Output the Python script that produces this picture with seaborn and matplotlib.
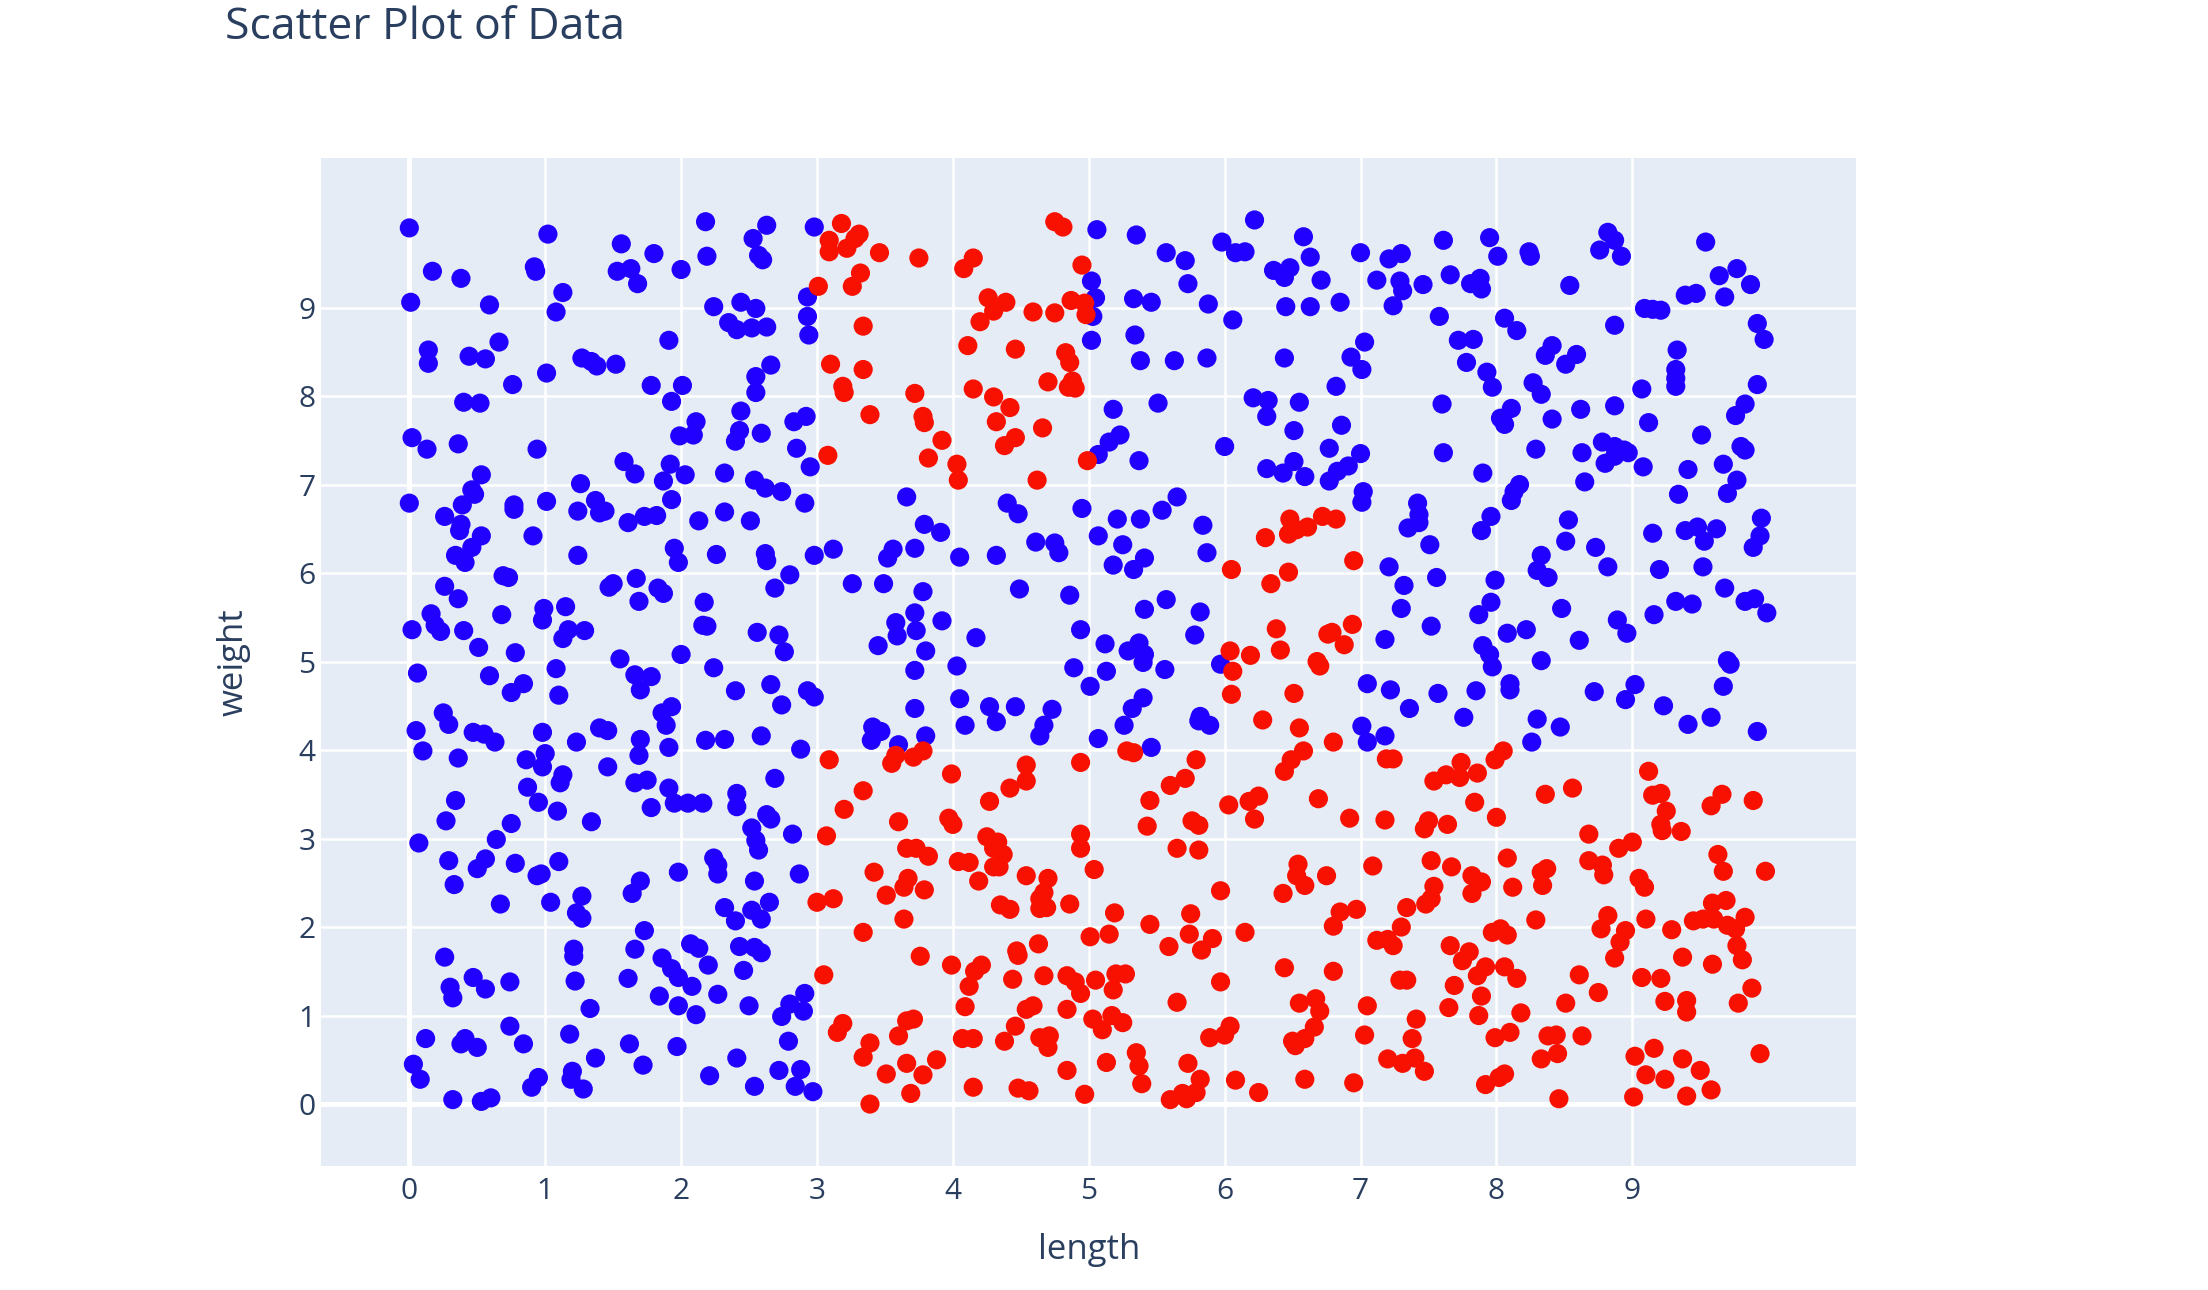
import matplotlib
matplotlib.use("Agg")
import matplotlib.pyplot as plt
import seaborn as sns
import pandas as pd

# ---------------- data ----------------
blue_points = [
    # x 0-2, y 5-10
    (0.00,9.90),(1.02,9.83),(1.56,9.72),(1.80,9.61),(0.17,9.41),(0.38,9.33),(0.92,9.46),(0.93,9.41),
    (1.53,9.41),(1.63,9.44),(1.68,9.27),(2.00,9.43),(1.13,9.17),(0.01,9.06),(0.59,9.03),(1.08,8.95),
    (1.91,8.63),(0.66,8.61),(0.14,8.52),(0.14,8.37),(0.44,8.45),(0.56,8.42),(1.27,8.43),(1.34,8.39),
    (1.38,8.34),(1.52,8.36),(1.01,8.26),(0.76,8.13),(1.78,8.12),(2.01,8.12),(1.93,7.94),(0.40,7.93),
    (0.52,7.92),(1.99,7.55),(0.02,7.53),(0.13,7.40),(0.36,7.46),(0.94,7.40),(1.58,7.26),(1.66,7.12),
    (1.92,7.23),(1.87,7.04),(0.53,7.11),(0.46,6.94),(0.48,6.89),(0.00,6.79),(0.39,6.77),(0.26,6.64),
    (0.38,6.55),(0.37,6.48),(0.53,6.42),(0.46,6.29),(0.34,6.20),(0.41,6.12),(0.77,6.77),(0.77,6.72),
    (1.01,6.81),(0.91,6.42),(1.26,7.01),(1.24,6.70),(1.37,6.82),(1.40,6.68),(1.44,6.70),(1.61,6.57),
    (1.73,6.64),(1.82,6.65),(1.93,6.83),(1.24,6.20),(1.95,6.28),(1.98,6.12),(0.69,5.97),(0.73,5.95),
    (0.26,5.85),(0.36,5.71),(0.16,5.54),(0.19,5.41),(0.23,5.34),(0.02,5.36),(0.40,5.35),(0.68,5.53),
    (0.51,5.16),(0.78,5.10),(0.99,5.60),(0.98,5.47),(1.15,5.62),(1.17,5.36),(1.13,5.26),(1.29,5.35),
    (1.50,5.88),(1.47,5.84),(1.67,5.94),(1.69,5.68),(1.83,5.83),(1.87,5.77),(2.00,5.08),(1.55,5.03),
    # x 0-2, y 0-5
    (0.06,4.87),(0.59,4.84),(1.08,4.92),(1.66,4.85),(1.78,4.83),(1.70,4.68),(0.75,4.65),(0.84,4.75),
    (1.10,4.62),(0.25,4.42),(0.29,4.29),(0.05,4.22),(0.10,3.99),(0.47,4.20),(0.55,4.18),(0.63,4.09),
    (0.36,3.91),(0.98,4.20),(1.23,4.09),(1.40,4.25),(1.46,4.22),(1.86,4.42),(1.93,4.49),(1.89,4.28),
    (1.70,4.12),(1.69,3.94),(1.91,4.03),(0.86,3.89),(1.00,3.96),(0.98,3.81),(1.13,3.72),(1.11,3.63),
    (1.46,3.81),(1.66,3.63),(1.75,3.66),(1.91,3.57),(1.95,3.40),(1.78,3.35),(0.87,3.58),(0.95,3.41),
    (1.09,3.31),(1.34,3.19),(0.34,3.43),(0.27,3.20),(0.75,3.17),(0.64,2.99),(0.07,2.95),(0.29,2.75),
    (0.56,2.77),(0.50,2.66),(0.33,2.48),(0.78,2.72),(0.94,2.58),(0.97,2.60),(1.10,2.74),(0.67,2.26),
    (1.04,2.28),(1.27,2.35),(1.23,2.16),(1.27,2.10),(1.70,2.52),(1.64,2.38),(1.98,2.62),(1.73,1.96),
    (1.66,1.75),(1.21,1.75),(1.21,1.67),(1.22,1.39),(1.33,1.08),(1.61,1.42),(1.86,1.65),(1.93,1.53),
    (1.98,1.43),(1.84,1.22),(1.98,1.11),(0.26,1.66),(0.47,1.43),(0.30,1.32),(0.32,1.20),(0.56,1.30),
    (0.74,1.38),(0.12,0.74),(0.41,0.74),(0.38,0.68),(0.50,0.64),(0.74,0.88),(0.84,0.68),(1.18,0.79),
    (1.37,0.52),(1.62,0.68),(1.72,0.44),(1.97,0.65),(0.03,0.45),(0.08,0.28),(0.95,0.30),(0.90,0.19),
    (1.20,0.37),(1.19,0.28),(1.28,0.17),(0.32,0.05),(0.53,0.03),(0.60,0.07),
    # x 2-4, y 5-10
    (2.18,9.97),(2.63,9.93),(2.53,9.78),(2.19,9.58),(2.57,9.59),(2.60,9.54),(2.98,9.91),(2.24,9.01),
    (2.44,9.06),(2.55,8.99),(2.35,8.83),(2.41,8.75),(2.52,8.77),(2.63,8.78),(2.93,9.12),(2.93,8.90),
    (2.94,8.69),(2.66,8.35),(2.55,8.22),(2.55,8.04),(2.44,7.83),(2.11,7.71),(2.09,7.56),(2.43,7.61),
    (2.40,7.49),(2.59,7.58),(2.83,7.71),(2.92,7.77),(2.85,7.41),(2.95,7.20),(2.03,7.11),(2.32,7.13),
    (2.54,7.05),(2.62,6.96),(2.74,6.92),(2.91,6.79),(2.13,6.59),(2.32,6.69),(2.51,6.59),(2.26,6.21),
    (2.62,6.22),(2.63,6.14),(2.98,6.20),(3.12,6.27),(2.80,5.98),(2.69,5.83),(3.26,5.88),(3.49,5.88),
    (3.66,6.86),(3.79,6.55),(3.91,6.46),(3.56,6.27),(3.52,6.17),(3.72,6.28),(2.17,5.67),(2.16,5.41),
    (2.19,5.40),(2.56,5.33),(2.72,5.30),(2.76,5.11),(2.24,4.93),(3.78,5.79),(3.72,5.55),(3.58,5.44),
    (3.59,5.29),(3.73,5.35),(3.92,5.46),(3.45,5.18),(3.80,5.12),(3.72,4.90),
    # x 2-4, y 0-5
    (2.40,4.67),(2.66,4.74),(2.74,4.51),(2.93,4.67),(2.98,4.60),(2.18,4.11),(2.32,4.12),(2.59,4.16),
    (2.88,4.01),(3.41,4.26),(3.47,4.21),(3.40,4.11),(3.60,4.06),(3.80,4.16),(3.72,4.47),(2.69,3.68),
    (2.05,3.40),(2.16,3.40),(2.41,3.51),(2.41,3.36),(2.63,3.27),(2.66,3.22),(2.52,3.12),(2.55,2.98),
    (2.57,2.87),(2.82,3.05),(2.24,2.78),(2.27,2.70),(2.27,2.60),(2.54,2.52),(2.87,2.60),(2.32,2.22),
    (2.40,2.07),(2.52,2.19),(2.59,2.09),(2.65,2.28),(2.07,1.81),(2.13,1.76),(2.43,1.78),(2.54,1.77),
    (2.59,1.71),(2.20,1.57),(2.46,1.51),(2.08,1.33),(2.27,1.24),(2.11,1.01),(2.50,1.11),(2.74,0.99),
    (2.80,1.13),(2.91,1.25),(2.90,1.05),(2.79,0.71),(2.41,0.52),(2.21,0.32),(2.54,0.20),(2.72,0.38),
    (2.88,0.39),(2.84,0.20),(2.97,0.14),
    # x 4-6, y 5-10
    (5.06,9.88),(5.35,9.82),(5.57,9.62),(5.71,9.53),(5.73,9.27),(5.98,9.74),(5.02,9.30),(5.05,9.11),
    (5.03,8.90),(5.33,9.10),(5.46,9.06),(5.88,9.04),(5.02,8.63),(5.34,8.69),(5.38,8.40),(5.63,8.40),
    (5.87,8.43),(5.18,7.85),(5.51,7.92),(5.23,7.56),(5.15,7.48),(5.07,7.34),(5.37,7.27),(6.00,7.43),
    (4.40,6.79),(4.48,6.67),(4.95,6.73),(4.05,6.18),(4.32,6.20),(4.61,6.35),(4.75,6.34),(4.78,6.23),
    (5.07,6.42),(5.21,6.61),(5.38,6.61),(5.54,6.71),(5.65,6.86),(5.25,6.32),(5.18,6.09),(5.33,6.04),
    (5.41,6.17),(5.84,6.54),(5.87,6.23),(4.49,5.82),(4.86,5.75),(4.17,5.27),(4.94,5.36),(5.12,5.20),
    (5.29,5.12),(5.37,5.21),(5.41,5.08),(5.40,4.99),(5.41,5.59),(5.57,5.70),(5.82,5.56),(5.78,5.30),
    (5.97,4.97),(4.03,4.95),(4.89,4.93),(5.13,4.89),(5.56,4.91),
    # x 4-6, y 0-5
    (4.05,4.58),(4.09,4.28),(4.27,4.49),(4.32,4.32),(4.46,4.49),(4.73,4.46),(4.67,4.28),(4.64,4.16),
    (5.01,4.72),(5.07,4.13),(5.40,4.59),(5.32,4.47),(5.26,4.28),(5.46,4.03),(5.82,4.38),(5.89,4.28),
    (5.81,4.33),
    # x 6-8, y 5-10
    (6.22,9.99),(6.08,9.62),(6.15,9.63),(6.58,9.80),(6.63,9.57),(6.36,9.42),(6.48,9.45),(6.44,9.34),
    (6.71,9.31),(6.45,9.01),(6.63,9.01),(6.85,9.06),(7.00,9.62),(7.21,9.55),(7.30,9.61),(7.12,9.31),
    (7.29,9.30),(7.31,9.19),(7.24,9.02),(7.46,9.26),(7.61,9.76),(7.66,9.37),(7.81,9.27),(7.88,9.33),
    (7.89,9.21),(7.95,9.79),(8.01,9.58),(6.06,8.86),(6.44,8.43),(7.58,8.90),(7.03,8.61),(6.93,8.44),
    (7.01,8.30),(7.72,8.63),(7.83,8.64),(7.78,8.38),(7.93,8.27),(7.97,8.10),(6.82,8.11),(6.21,7.98),
    (6.32,7.95),(6.31,7.77),(6.55,7.93),(6.51,7.61),(6.86,7.67),(7.60,7.91),(6.77,7.41),(7.00,7.35),
    (6.31,7.18),(6.43,7.13),(6.51,7.26),(6.59,7.09),(6.77,7.04),(6.83,7.15),(6.91,7.21),(7.61,7.36),
    (7.90,7.13),(7.02,6.92),(7.01,6.80),(7.42,6.79),(7.43,6.66),(7.43,6.57),(7.35,6.51),(7.51,6.32),
    (7.96,6.64),(7.89,6.48),(7.21,6.07),(7.32,5.86),(7.56,5.95),(7.30,5.60),(7.52,5.40),(7.18,5.25),
    (7.99,5.92),(7.96,5.67),(7.87,5.53),(7.90,5.18),(7.95,5.08),(7.97,4.94),
    # x 6-8, y 0-5
    (7.05,4.75),(7.22,4.68),(7.36,4.47),(7.57,4.64),(7.85,4.67),(7.76,4.37),(7.01,4.27),(7.05,4.09),
    (7.18,4.16),
    # x 8-10, y 5-10
    (8.24,9.63),(8.25,9.58),(8.82,9.85),(8.87,9.76),(8.76,9.65),(8.92,9.58),(8.54,9.25),(9.54,9.74),
    (9.64,9.36),(9.77,9.44),(9.87,9.26),(9.68,9.12),(9.39,9.14),(9.47,9.16),(9.09,8.99),(9.15,8.98),
    (9.21,8.97),(8.06,8.88),(8.15,8.74),(8.87,8.80),(9.92,8.82),(9.97,8.64),(8.41,8.57),(8.36,8.46),
    (8.51,8.36),(8.59,8.47),(9.33,8.52),(9.32,8.30),(9.32,8.20),(9.32,8.11),(8.27,8.15),(8.33,8.02),
    (9.07,8.08),(9.92,8.13),(8.11,7.86),(8.03,7.75),(8.06,7.68),(8.41,7.74),(8.62,7.85),(8.87,7.89),
    (9.12,7.70),(9.83,7.91),(9.76,7.78),(9.51,7.56),(8.29,7.40),(8.63,7.36),(8.78,7.48),(8.87,7.43),
    (8.94,7.39),(8.97,7.36),(8.87,7.32),(8.80,7.24),(9.08,7.20),(9.41,7.17),(9.67,7.23),(9.80,7.43),
    (9.83,7.39),(9.77,7.05),(9.70,6.90),(9.34,6.89),(8.65,7.03),(8.17,7.00),(8.13,6.92),(8.11,6.82),
    (8.53,6.60),(8.51,6.36),(8.73,6.29),(8.82,6.07),(8.33,6.20),(8.30,6.03),(8.38,5.95),(9.15,6.45),
    (9.39,6.48),(9.48,6.52),(9.53,6.36),(9.62,6.50),(9.95,6.62),(9.94,6.42),(9.89,6.29),(9.20,6.04),
    (9.52,6.07),(9.68,5.83),(8.48,5.60),(9.32,5.68),(9.44,5.65),(9.83,5.68),(9.90,5.71),(9.99,5.55),
    (9.16,5.53),(8.08,5.32),(8.22,5.36),(8.61,5.24),(8.89,5.47),(8.96,5.32),(8.33,5.01),(9.70,5.01),
    (9.72,4.97),
    # x 8-10, y 0-5
    (8.10,4.75),(8.10,4.68),(8.72,4.66),(9.02,4.74),(8.95,4.57),(9.23,4.50),(9.41,4.29),(9.58,4.37),
    (9.67,4.72),(9.92,4.21),(8.30,4.35),(8.47,4.26),(8.26,4.09),
]

red_points = [
    # x 2-4, y 5-10
    (3.18,9.95),(3.09,9.76),(3.09,9.63),(3.22,9.67),(3.28,9.78),(3.31,9.83),(3.46,9.62),(3.75,9.56),
    (3.32,9.39),(3.26,9.24),(3.01,9.24),(3.34,8.79),(3.10,8.36),(3.34,8.30),(3.19,8.11),(3.20,8.04),
    (3.72,8.03),(3.39,7.79),(3.78,7.77),(3.79,7.70),(3.92,7.50),(3.82,7.30),(3.08,7.33),
    # x 2-4, y 0-5
    (3.09,3.89),(3.07,3.03),(3.34,3.54),(3.20,3.33),(3.55,3.85),(3.58,3.94),(3.71,3.92),(3.78,3.99),
    (3.99,3.73),(3.60,3.19),(3.97,3.23),(4.00,3.16),(3.66,2.89),(3.73,2.89),(3.82,2.80),(3.42,2.62),
    (3.67,2.55),(3.64,2.45),(3.51,2.36),(3.79,2.42),(3.00,2.28),(3.12,2.32),(3.64,2.09),(3.34,1.94),
    (3.76,1.67),(3.99,1.57),(3.05,1.46),(3.19,0.91),(3.15,0.81),(3.39,0.69),(3.34,0.53),(3.66,0.94),
    (3.71,0.96),(3.60,0.77),(3.66,0.46),(3.51,0.34),(3.78,0.33),(3.88,0.50),(3.69,0.12),(3.39,0.00),
    # x 4-6, y 5-10
    (4.75,9.97),(4.81,9.91),(4.15,9.56),(4.08,9.44),(4.95,9.48),(4.26,9.11),(4.39,9.06),(4.30,8.96),
    (4.20,8.84),(4.59,8.95),(4.75,8.94),(4.87,9.08),(4.97,9.05),(4.98,8.92),(4.11,8.57),(4.46,8.53),
    (4.83,8.49),(4.86,8.38),(4.15,8.08),(4.30,7.99),(4.42,7.87),(4.32,7.71),(4.70,8.16),(4.85,8.10),
    (4.88,8.17),(4.90,8.09),(4.66,7.64),(4.38,7.44),(4.46,7.53),(4.03,7.23),(4.04,7.05),(4.62,7.05),
    (4.99,7.27),
    # x 4-6, y 0-5
    (4.54,3.83),(4.54,3.65),(4.42,3.57),(4.27,3.42),(4.94,3.86),(5.28,3.99),(5.33,3.97),(5.79,3.89),
    (5.71,3.68),(5.60,3.60),(5.45,3.43),(5.43,3.14),(5.76,3.20),(5.81,3.15),(4.25,3.02),(4.33,2.96),
    (4.30,2.89),(4.37,2.82),(4.30,2.68),(4.34,2.68),(4.04,2.74),(4.12,2.73),(4.19,2.52),(4.94,3.05),
    (4.94,2.89),(5.04,2.65),(5.65,2.89),(5.81,2.87),(4.54,2.58),(4.70,2.55),(4.67,2.39),(4.64,2.32),
    (4.64,2.21),(4.69,2.22),(4.35,2.25),(4.42,2.20),(4.86,2.26),(5.19,2.16),(5.97,2.41),(5.45,2.03),
    (5.75,2.15),(5.74,1.92),(5.91,1.87),(5.83,1.74),(5.59,1.78),(5.01,1.89),(5.15,1.92),(4.63,1.81),
    (4.47,1.73),(4.48,1.68),(4.21,1.57),(4.16,1.50),(4.12,1.33),(4.44,1.41),(4.67,1.45),(4.84,1.45),
    (4.90,1.38),(4.94,1.25),(5.05,1.40),(5.20,1.47),(5.27,1.47),(5.18,1.29),(4.09,1.10),(4.54,1.07),
    (4.59,1.11),(4.84,1.07),(5.65,1.15),(5.97,1.38),(5.03,0.96),(5.10,0.84),(5.17,1.00),(5.25,0.92),
    (4.07,0.74),(4.15,0.74),(4.46,0.88),(4.38,0.71),(4.64,0.75),(4.71,0.77),(4.70,0.64),(5.89,0.75),
    (6.00,0.78),(5.35,0.58),(5.37,0.43),(5.39,0.23),(5.13,0.47),(4.84,0.38),(5.73,0.46),(5.82,0.28),
    (5.79,0.13),(5.69,0.12),(5.72,0.06),(5.60,0.05),(4.15,0.19),(4.48,0.18),(4.56,0.15),(4.97,0.11),
    # x 6-8, y 5-10
    (6.48,6.61),(6.47,6.44),(6.53,6.49),(6.61,6.52),(6.72,6.64),(6.82,6.61),(6.30,6.40),(6.95,6.14),
    (6.05,6.04),(6.47,6.01),(6.34,5.88),(6.38,5.37),(6.41,5.13),(6.04,5.12),(6.19,5.07),(6.76,5.31),
    (6.79,5.33),(6.88,5.19),(6.94,5.42),(6.68,5.00),(6.70,4.95),(6.06,4.89),
    # x 6-8, y 0-5
    (6.05,4.63),(6.51,4.64),(6.28,4.34),(6.55,4.25),(6.80,4.09),(6.58,3.99),(6.49,3.89),(6.44,3.76),
    (6.03,3.38),(6.18,3.42),(6.25,3.48),(6.22,3.22),(6.69,3.45),(6.92,3.23),(7.18,3.21),(7.19,3.90),
    (7.24,3.90),(7.47,3.11),(7.50,3.20),(7.64,3.16),(7.54,3.65),(7.63,3.72),(7.73,3.69),(7.74,3.86),
    (7.86,3.74),(7.84,3.41),(8.00,3.24),(7.99,3.89),(6.54,2.71),(6.53,2.58),(6.59,2.47),(6.43,2.38),
    (6.75,2.58),(7.09,2.69),(6.85,2.17),(6.80,2.01),(6.97,2.20),(6.15,1.94),(7.34,2.22),(7.30,2.00),
    (7.48,2.26),(7.52,2.32),(7.54,2.46),(7.52,2.75),(7.67,2.68),(7.82,2.58),(7.89,2.51),(7.82,2.38),
    (7.12,1.85),(7.20,1.86),(7.24,1.79),(7.66,1.79),(7.80,1.72),(7.75,1.62),(7.97,1.94),(6.44,1.54),
    (6.80,1.50),(7.29,1.40),(7.34,1.40),(7.69,1.34),(7.86,1.45),(7.92,1.55),(7.89,1.22),(6.55,1.14),
    (6.67,1.19),(6.70,1.05),(7.05,1.11),(7.65,1.09),(7.87,1.00),(6.04,0.88),(6.66,0.87),(6.59,0.74),
    (6.50,0.71),(6.52,0.66),(7.03,0.78),(7.41,0.96),(7.38,0.74),(7.20,0.51),(7.31,0.46),(7.40,0.52),
    (7.47,0.37),(7.99,0.75),(6.08,0.27),(6.25,0.13),(6.59,0.28),(6.95,0.24),(7.92,0.22),
    # x 8-10, y 0-5
    (8.05,3.99),(8.36,3.50),(8.56,3.57),(8.68,3.05),(9.12,3.76),(9.15,3.49),(9.21,3.51),(9.25,3.31),
    (9.21,3.16),(9.22,3.09),(9.36,3.08),(9.58,3.37),(9.66,3.50),(9.89,3.43),(8.08,2.78),(8.12,2.45),
    (8.33,2.62),(8.37,2.66),(8.34,2.47),(8.68,2.75),(8.78,2.70),(8.79,2.59),(8.90,2.89),(9.00,2.96),
    (9.05,2.55),(9.09,2.45),(9.63,2.82),(9.67,2.63),(9.98,2.63),(8.29,2.08),(8.03,1.98),(8.08,1.91),
    (8.82,2.13),(8.77,1.98),(8.95,1.96),(8.91,1.83),(8.87,1.65),(9.10,2.09),(9.29,1.97),(9.45,2.07),
    (9.52,2.09),(9.59,2.27),(9.69,2.30),(9.60,2.09),(9.70,2.02),(9.76,1.98),(9.83,2.11),(9.77,1.79),
    (9.81,1.63),(9.37,1.66),(9.59,1.58),(8.06,1.55),(8.15,1.42),(8.61,1.46),(8.75,1.26),(8.51,1.14),
    (9.07,1.43),(9.21,1.42),(9.24,1.16),(9.40,1.17),(9.40,1.04),(9.78,1.14),(9.88,1.31),(8.18,1.03),
    (8.10,0.81),(8.38,0.77),(8.44,0.78),(8.45,0.57),(8.33,0.51),(8.63,0.77),(8.02,0.30),(8.06,0.34),
    (8.46,0.06),(9.02,0.54),(9.16,0.63),(9.10,0.33),(9.24,0.28),(9.37,0.51),(9.50,0.38),(9.58,0.16),
    (9.40,0.09),(9.01,0.08),(9.94,0.57),
]

tick_values = list(range(10))
tick_labels = [str(v) for v in tick_values]
title_text = "Scatter Plot of Data"
x_label = "length"
y_label = "weight"

# ---------------- build table ----------------
df = pd.DataFrame(
    [(x, y, "blue") for x, y in blue_points] + [(x, y, "red") for x, y in red_points],
    columns=["length", "weight", "group"],
)

# ---------------- style ----------------
sns.set_style("dark", {"axes.facecolor": "#E5ECF6", "figure.facecolor": "white"})
plt.rcParams["font.family"] = ["Open Sans", "DejaVu Sans"]
text_color = "#2a3f5f"

W, H = 2208, 1290
fig = plt.figure(figsize=(W / 100, H / 100), dpi=100)
L, R, T, B = 321, 1856.5, 158, 1166
ax = fig.add_axes([L / W, 1 - B / H, (R - L) / W, (B - T) / H])

ax.set_xlim(-0.65, 10.65)
ax.set_ylim(-0.70, 10.69)
ax.set_xticks(tick_values)
ax.set_yticks(tick_values)
ax.set_xticklabels(tick_labels)
ax.set_yticklabels(tick_labels)
ax.grid(True, color="white", linewidth=1.8, zorder=0)
ax.set_axisbelow(True)
ax.axvline(0, color="white", linewidth=3.6, zorder=0.5)
ax.axhline(0, color="white", linewidth=3.6, zorder=0.5)
for s in ax.spines.values():
    s.set_visible(False)

sns.scatterplot(
    data=df, x="length", y="weight", hue="group",
    palette={"blue": "#2200ff", "red": "#f81000"},
    s=190, linewidth=0, edgecolor="none", legend=False, ax=ax, zorder=3,
)

ax.tick_params(axis="both", length=0, labelsize=21.5, colors=text_color)
ax.tick_params(axis="x", pad=8)
ax.tick_params(axis="y", pad=4)

ax.set_xlabel(x_label, fontsize=25, color=text_color)
ax.set_ylabel(y_label, fontsize=25, color=text_color)
ax.xaxis.set_label_coords(0.5, (B - 1250) / (B - T))
ax.xaxis.label.set_va("center")
ax.yaxis.set_label_coords((234 - L) / (R - L), 0.5)
ax.yaxis.label.set_va("center")

fig.text(225 / W, 1 - 28 / H, title_text, ha="left", va="center",
         fontsize=32, color=text_color)

fig.savefig("out.png", dpi=100)
